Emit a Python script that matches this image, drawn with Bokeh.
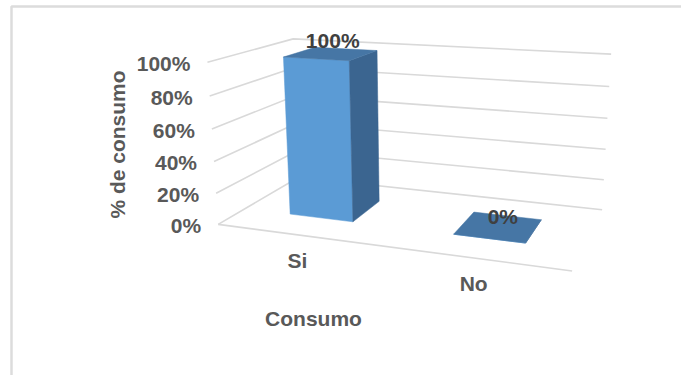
import math
import numpy as np
from bokeh.plotting import figure
from bokeh.models import Range1d, Label
from bokeh.core.properties import value
from bokeh.embed import file_html
from bokeh.resources import INLINE

# ---------------- data ----------------
categories = ["Si", "No"]
consumo = [100, 0]                      # % de consumo
y_ticks = [0, 20, 40, 60, 80, 100]
y_tick_labels = ["0%", "20%", "40%", "60%", "80%", "100%"]
data_labels = ["100%", "0%"]
x_title = "Consumo"
y_title = "% de consumo"

# ---------------- layout / style ----------------
W, H = 681, 375
FONT_NAME = "Liberation Sans"
FONT = value(FONT_NAME)
FS = "21px"
TXT = "#595959"
GRID = "#D9D9D9"
FRONT, TOP, SIDE = "#5B9BD5", "#4676A5", "#3B6590"
BAR_W, Z0, Z1 = 0.4, 0.3, 0.7

# anchors of the 3-D frame (category, value, depth) -> pixel, used to fit the camera
n = len(categories)
FRAME_WORLD = [(0, 100, 0), (0, 80, 0), (0, 60, 0), (0, 40, 0), (0, 20, 0), (0, 0, 0),
               (n, 0, 0), (0, 100, 1), (n, 100, 1), (n, 80, 1), (n, 60, 1), (n, 40, 1),
               (n, 20, 1), (n, 0, 1)]
FRAME_PIX = [(207, 62), (209, 96), (212, 128), (213, 162), (215, 193), (218, 223),
             (572, 270), (293, 38), (611, 53), (608, 86), (607, 118), (605, 149),
             (603, 180), (602, 209)]


def fit_camera(world, pix):
    rows = []
    for (X, Y, Z), (u, v) in zip(world, pix):
        Y = Y / 100.0
        u = u / 100.0
        v = v / 100.0
        rows.append([X, Y, Z, 1, 0, 0, 0, 0, -u * X, -u * Y, -u * Z, -u])
        rows.append([0, 0, 0, 0, X, Y, Z, 1, -v * X, -v * Y, -v * Z, -v])
    A = np.array(rows, float)
    _, _, vt = np.linalg.svd(A)
    return vt[-1].reshape(3, 4)


P = fit_camera(FRAME_WORLD, FRAME_PIX)


def proj(X, Y, Z):
    h = P @ np.array([X, Y / 100.0, Z, 1.0])
    return 100.0 * h[0] / h[2], 100.0 * h[1] / h[2]


def poly(pts):
    xy = [proj(*q) for q in pts]
    return [a for a, _ in xy], [b for _, b in xy]


p = figure(width=W, height=H, x_range=Range1d(0, W), y_range=Range1d(H, 0),
           toolbar_location=None, output_backend="svg", min_border=0,
           x_axis_location=None, y_axis_location=None)
p.grid.visible = False
p.outline_line_color = None
p.background_fill_color = "white"

# outer chart border (partially cut by the window)
p.line([11, 11, W + 10], [H + 10, 6, 6], line_color="#DCDCDC", line_width=2.5)

# gridlines: left wall, back wall, floor front edge
gx, gy = [], []
for t in y_ticks:
    xs, ys = poly([(0, t, 0), (0, t, 1), (n, t, 1)])
    gx.append(xs)
    gy.append(ys)
xs, ys = poly([(0, 0, 0), (n, 0, 0)])
gx.append(xs)
gy.append(ys)
p.multi_line(gx, gy, line_color=GRID, line_width=1.6)

# bars
fx, fy, sx, sy, tx, ty = [], [], [], [], [], []
for i, v in enumerate(consumo):
    x0, x1 = i + 0.5 - BAR_W / 2, i + 0.5 + BAR_W / 2
    a, b = poly([(x0, 0, Z0), (x1, 0, Z0), (x1, v, Z0), (x0, v, Z0)])
    fx.append(a); fy.append(b)
    a, b = poly([(x1, 0, Z0), (x1, 0, Z1), (x1, v, Z1), (x1, v, Z0)])
    sx.append(a); sy.append(b)
    a, b = poly([(x0, v, Z0), (x1, v, Z0), (x1, v, Z1), (x0, v, Z1)])
    tx.append(a); ty.append(b)
p.patches(fx, fy, fill_color=FRONT, line_color=FRONT, line_width=0.5)
p.patches(sx, sy, fill_color=SIDE, line_color=SIDE, line_width=0.5)
p.patches(tx, ty, fill_color=TOP, line_color=TOP, line_width=0.5)

# tick labels
tl = [proj(0, t, 0) for t in y_ticks]
p.text(x=[a - 17 for a, _ in tl], y=[b + 1 for _, b in tl], text=y_tick_labels,
       text_font=FONT, text_font_style="bold", text_font_size=FS,
       text_color=TXT, text_align="right", text_baseline="middle")

# category labels
cl = [proj(i + 0.5, 0, 0) for i in range(n)]
p.text(x=[a for a, _ in cl], y=[b + 26 for _, b in cl], text=categories,
       text_font=FONT, text_font_style="bold", text_font_size=FS,
       text_color=TXT, text_align="center", text_baseline="middle")

# data labels
dl = [proj(i + 0.5, v, 0.4) for i, v in enumerate(consumo)]
p.text(x=[a + 9 for a, _ in dl], y=[b - 16 for _, b in dl], text=data_labels,
       text_font=FONT, text_font_style="bold", text_font_size=FS,
       text_color="#404040", text_align="center", text_baseline="middle")

# axis titles
p.add_layout(Label(x=313, y=318, text=x_title, text_font=FONT_NAME, text_font_style="bold",
                   text_font_size=FS, text_color=TXT, text_align="center",
                   text_baseline="middle"))
p.add_layout(Label(x=117, y=144, text=y_title, angle=math.pi / 2, text_font=FONT_NAME,
                   text_font_style="bold", text_font_size=FS, text_color=TXT,
                   text_align="center", text_baseline="middle"))

open("out.html", "w").write(file_html(p, INLINE))
